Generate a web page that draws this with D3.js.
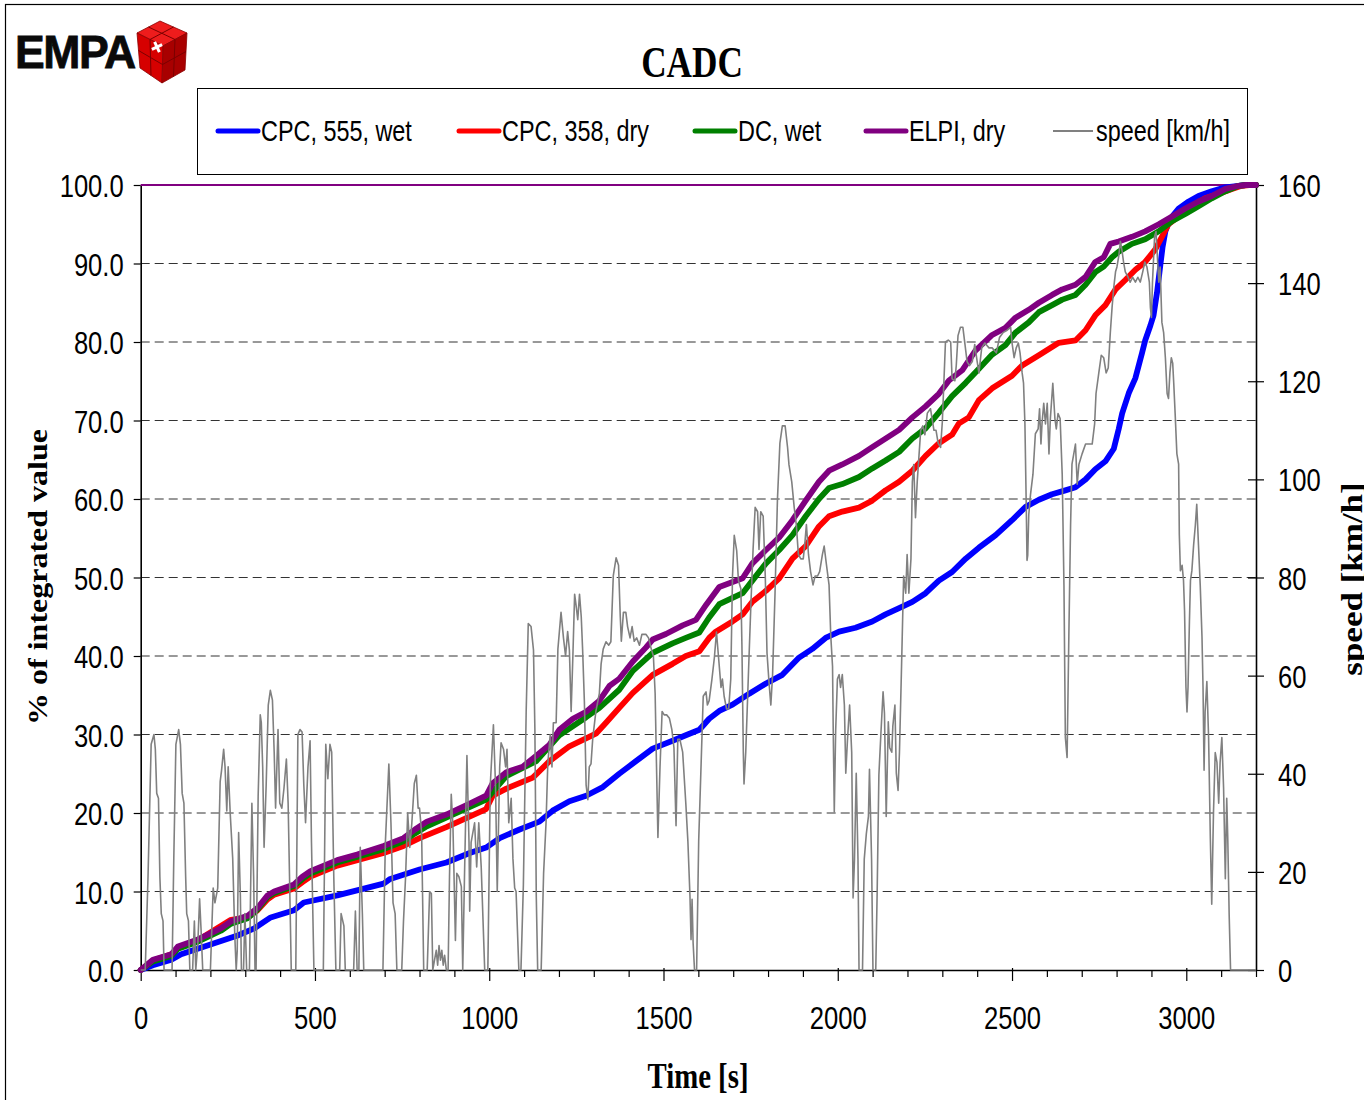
<!DOCTYPE html>
<html>
<head>
<meta charset="utf-8">
<script src="https://cdn.jsdelivr.net/npm/d3@7"></script>
<style>
  body { margin: 0; background: #fff; }
  svg { display: block; }
  .sans { font-family: "Liberation Sans", Arial, sans-serif; }
  .serif { font-family: "Liberation Serif", "Times New Roman", serif; font-weight: bold; }
</style>
</head>
<body>
<svg id="chart" width="1364" height="1100"></svg>
<script>
// ---- axis ticks ----
const timeTicks = [0, 500, 1000, 1500, 2000, 2500, 3000];
const minorTimeTicks = d3.range(0, 3201, 100);
const percentTicks = [0, 10, 20, 30, 40, 50, 60, 70, 80, 90, 100];
const speedTicks = [0, 20, 40, 60, 80, 100, 120, 140, 160];

// ---- series: [time s, % of integrated value] ----
const cpc555Wet = [[0,0],[35,0.6],[88,1.3],[116,2],[183,3],[278,4.4],[326,5.3],[373,6.7],[440,7.6],[468,8.6],[564,9.5],[697,11],[716,11.6],[800,12.8],[877,13.7],[944,14.9],[991,15.6],[1030,16.8],[1087,17.9],[1144,18.9],[1182,20.3],[1230,21.5],[1278,22.2],[1326,23.3],[1373,25],[1421,26.6],[1469,28.2],[1526,29.2],[1564,29.9],[1603,30.6],[1631,32],[1660,33],[1698,33.8],[1746,35.2],[1794,36.5],[1841,37.6],[1889,39.8],[1927,40.9],[1965,42.3],[2004,43.1],[2051,43.6],[2099,44.4],[2137,45.3],[2176,46.1],[2214,46.9],[2252,48],[2290,49.6],[2328,50.7],[2367,52.4],[2405,53.8],[2453,55.4],[2500,57.3],[2539,59],[2577,59.9],[2615,60.6],[2653,61.1],[2682,61.5],[2711,62.5],[2739,63.8],[2768,64.8],[2792,66.4],[2806,68.9],[2816,70.9],[2835,73.5],[2854,75.4],[2873,78.6],[2882,80.2],[2897,82.1],[2906,83.4],[2916,86.3],[2925,89.6],[2932,92.1],[2940,94.1],[2954,95.7],[2978,97],[3007,97.9],[3035,98.6],[3073,99.2],[3112,99.7],[3150,99.9],[3169,100],[3200,100]];

const cpc358Dry = [[0,0],[35,1.2],[88,2.0],[107,2.8],[164,3.8],[230,5.6],[259,6.4],[307,6.7],[335,7.6],[364,9.0],[383,9.6],[440,10.4],[464,11.2],[487,11.9],[564,13.3],[697,14.9],[754,15.8],[800,16.8],[877,18.2],[991,20.5],[1010,22.2],[1049,23.1],[1125,24.5],[1173,26.6],[1230,28.5],[1306,30.1],[1335,31.5],[1373,33.4],[1412,35.3],[1469,37.6],[1526,39],[1564,40],[1603,40.6],[1631,42.3],[1650,43.1],[1698,44.4],[1727,45.3],[1755,46.9],[1794,48.3],[1832,49.9],[1870,52.4],[1908,54],[1946,56.5],[1975,57.8],[2013,58.4],[2061,58.9],[2099,59.8],[2137,61.1],[2176,62.2],[2214,63.6],[2252,65.5],[2290,67.1],[2328,68.2],[2347,69.6],[2376,70.4],[2405,72.6],[2443,74.1],[2500,75.7],[2529,77],[2577,78.3],[2634,79.9],[2682,80.2],[2711,81.5],[2739,83.4],[2768,84.7],[2797,86.7],[2825,87.9],[2854,89.2],[2882,90.2],[2911,91.8],[2930,93.4],[2949,95],[2978,96],[3016,97.3],[3054,98.3],[3093,98.9],[3131,99.5],[3159,99.9],[3180,100],[3200,100]];

const dcWet = [[0,0],[35,1.1],[88,1.8],[107,2.7],[164,3.6],[230,5.0],[259,5.9],[307,6.6],[335,7.7],[364,9.3],[383,9.8],[440,10.7],[464,11.6],[487,12.3],[564,13.7],[621,14.4],[697,15.4],[754,16.4],[787,17.4],[821,18.3],[991,21.7],[1049,24.7],[1135,26.6],[1201,29.9],[1278,32.2],[1316,33.4],[1373,35.7],[1412,38.1],[1469,40.4],[1526,41.6],[1564,42.3],[1603,43],[1631,44.9],[1660,46.6],[1727,48],[1755,49.6],[1794,51.8],[1832,53.5],[1870,55.4],[1908,57.8],[1946,60],[1975,61.4],[2013,61.9],[2061,62.8],[2099,63.9],[2137,64.9],[2176,66],[2214,67.7],[2252,69],[2290,71],[2328,73.1],[2367,74.8],[2405,76.6],[2443,78.4],[2481,79.6],[2510,81.2],[2548,82.5],[2577,83.8],[2615,84.7],[2644,85.4],[2682,86],[2711,87.3],[2739,88.9],[2763,89.6],[2787,90.8],[2806,91.5],[2844,92.5],[2882,93.1],[2921,94.1],[2959,95.4],[2997,96.3],[3035,97.3],[3073,98.3],[3112,99.2],[3150,99.9],[3170,100],[3200,100]];

const elpiDry = [[0,0],[35,1.3],[88,2.0],[107,3.0],[164,3.9],[230,5.3],[259,6.2],[307,6.9],[335,7.9],[364,9.5],[383,10],[440,10.9],[464,11.9],[487,12.6],[564,14],[621,14.7],[697,15.8],[754,16.8],[787,17.9],[821,18.9],[877,19.8],[944,21.2],[991,22.2],[1010,23.8],[1049,25.2],[1096,25.9],[1135,27.3],[1173,28.7],[1201,30.6],[1240,32],[1278,32.9],[1316,34.3],[1345,36.2],[1373,37.1],[1412,39.3],[1450,41.1],[1469,42.1],[1507,42.8],[1555,43.9],[1593,44.6],[1622,46.5],[1660,48.8],[1727,49.9],[1755,51.8],[1794,53.5],[1832,55.1],[1870,57.3],[1908,59.8],[1946,62.2],[1975,63.6],[2013,64.4],[2061,65.5],[2099,66.6],[2137,67.7],[2176,68.8],[2214,70.4],[2252,71.8],[2290,73.4],[2319,75.1],[2357,76.4],[2395,78.9],[2443,80.9],[2481,81.8],[2510,83.1],[2548,84.1],[2577,85],[2615,86],[2644,86.7],[2682,87.3],[2711,88.3],[2739,90.2],[2763,90.8],[2782,92.5],[2806,92.8],[2844,93.4],[2882,94.1],[2921,95],[2959,96],[2997,97],[3035,97.9],[3073,98.6],[3112,99.5],[3150,99.9],[3170,100],[3200,100]];

// ---- vehicle speed: [time s, km/h] ----
const speedTrace = [[0,0],[13,0],[21,19],[30,46],[38,48],[42,45],[46,36],[51,35],[55,19],[59,11.5],[64,10],[67,0],[90,0],[95,23],[101,46],[109,49],[114,46],[119,36],[124,34],[129,19],[132,11.5],[137,10],[141,0],[149,0],[154,10],[158,0],[164,5.5],[169,14.5],[173,8.5],[178,0],[200,0],[208,16.7],[213,13.7],[221,16.7],[228,38.4],[232,40.7],[238,45],[242,41.4],[247,32.4],[251,41.4],[257,31.7],[264,22.7],[270,7],[274,0],[277,4],[281,28],[286,15],[289,0],[295,0],[299,11.5],[304,0],[312,0],[319,34],[324,19],[328,0],[331,0],[337,35.4],[343,52],[346,50.4],[350,41.4],[354,25],[360,37.7],[366,54],[372,57],[378,55],[383,44.4],[387,33],[394,49],[399,34],[405,33],[411,37],[418,43],[423,34],[427,19],[432,0],[445,0],[451,48],[457,49],[463,48.5],[468,37.7],[473,30],[480,41.4],[486,46.7],[490,26],[497,0],[524,0],[531,46],[537,39],[543,46],[548,44.4],[554,19],[560,0],[571,0],[575,11.5],[583,9],[587,0],[611,0],[616,12],[621,0],[626,0],[630,25],[636,11.5],[640,0],[695,0],[702,26],[712,42],[718,30],[724,13.7],[730,11.5],[735,0],[749,0],[754,10],[760,19],[766,32],[772,25],[778,30],[785,38],[791,39.7],[796,33],[800,33],[806,28],[812,0],[822,0],[829,16],[834,15.6],[838,0],[843,2],[848,4],[852,1],[856,5],[860,2],[864,4],[868,1],[872,3],[877,0],[882,0],[886,19],[891,35.8],[896,29],[903,6],[907,19.7],[913,19],[920,17],[924,0],[929,19],[936,43.7],[942,26],[944,12],[948,26],[958,30],[964,21],[970,30],[977,21],[987,0],[996,0],[1003,37.7],[1012,50],[1018,37.7],[1023,16],[1030,41.4],[1034,46.3],[1041,45],[1047,41.4],[1051,45],[1056,30],[1063,35],[1068,22.7],[1073,16.7],[1077,16],[1085,0],[1091,0],[1098,17.4],[1106,52.7],[1112,70.6],[1120,70],[1127,65.2],[1131,49],[1135,15],[1139,0],[1149,0],[1156,19.7],[1163,30],[1168,42],[1175,48],[1180,41.4],[1184,50.4],[1192,50.4],[1197,65.4],[1206,72.9],[1213,67.7],[1219,64],[1225,69],[1230,65.2],[1235,52.7],[1240,64],[1245,76.6],[1249,74.4],[1254,71.4],[1259,76.6],[1264,72],[1268,65.2],[1273,54.7],[1278,37.7],[1283,34.7],[1287,41.4],[1292,42],[1297,47.2],[1306,52.7],[1316,56.4],[1321,62.4],[1327,65.4],[1335,66.9],[1343,66.2],[1349,66.9],[1356,80.4],[1364,84],[1371,82.5],[1376,72],[1379,67],[1385,72.9],[1392,72.9],[1397,70],[1404,67.7],[1410,70],[1416,67],[1423,67.7],[1431,66.2],[1438,68.4],[1450,68.4],[1457,67.7],[1465,65.4],[1471,64],[1476,56.4],[1480,41.4],[1484,27],[1490,41.4],[1496,52.7],[1502,52],[1509,52],[1517,51.3],[1524,49],[1530,45.3],[1536,29.4],[1541,47],[1547,47],[1555,44.4],[1564,34],[1570,26.2],[1576,15],[1579,6.2],[1582,14.4],[1585,5.5],[1589,0],[1595,0],[1601,26.4],[1607,39.9],[1614,55.8],[1622,56.7],[1626,54],[1631,54.9],[1639,59.3],[1646,63.7],[1652,68.9],[1658,63.7],[1665,57.6],[1669,59.3],[1674,55.8],[1681,53.2],[1687,53.2],[1693,59.3],[1698,80.3],[1703,88.6],[1710,85.5],[1715,79.4],[1722,77.7],[1725,66.3],[1729,44.4],[1731,37.9],[1736,44.4],[1744,61],[1751,75],[1757,85.7],[1763,94.3],[1770,93.4],[1774,85.7],[1779,93.4],[1786,92.5],[1792,80.3],[1797,64.6],[1803,58.4],[1808,54],[1813,60.2],[1820,76.8],[1827,96],[1834,107.4],[1841,110.9],[1849,110.9],[1856,106.5],[1860,103],[1868,99.5],[1875,94.3],[1881,90.8],[1887,84.7],[1894,83.8],[1901,83.8],[1906,87.3],[1910,90.8],[1916,84.7],[1922,81.2],[1929,78.5],[1935,80.3],[1942,80.3],[1948,81.2],[1956,84.7],[1961,86.4],[1967,82.9],[1975,78.5],[1980,68],[1985,61.9],[1987,48.8],[1990,32.2],[1994,48.8],[1999,59.3],[2004,60.2],[2008,57.6],[2013,60.2],[2019,54],[2023,40.1],[2028,47.1],[2034,54],[2040,44.4],[2044,14.7],[2048,22.6],[2053,40.1],[2058,22.6],[2061,0],[2071,0],[2076,22.6],[2082,27.8],[2088,31.3],[2091,40.9],[2097,22.6],[2101,0],[2109,0],[2113,15.6],[2118,39.8],[2124,48.5],[2130,56.7],[2134,52.3],[2139,31.3],[2145,50.6],[2149,45.3],[2155,44.4],[2158,49.7],[2164,54],[2168,40.1],[2173,36.6],[2177,44.4],[2183,61.9],[2189,80.3],[2195,76.8],[2199,84.7],[2204,76.8],[2210,83.8],[2214,99.5],[2218,103],[2223,92.2],[2228,99.5],[2233,104.8],[2238,110],[2244,110.9],[2250,109.1],[2257,113.5],[2266,114.4],[2276,110],[2282,110],[2288,107.4],[2295,106.5],[2300,111.7],[2309,128],[2317,128.4],[2324,128],[2328,120.5],[2336,120.1],[2340,123.2],[2345,129.3],[2352,131],[2359,131],[2365,127.5],[2371,124],[2378,123.2],[2386,124],[2393,127.5],[2400,124],[2405,121.7],[2413,126.8],[2422,127.8],[2434,126.8],[2443,126.8],[2455,125.8],[2464,128.9],[2474,129.9],[2486,130.4],[2496,131],[2500,127.8],[2506,124.8],[2512,126.8],[2518,127.8],[2523,125.8],[2529,121.7],[2533,119.6],[2537,111.3],[2541,93.8],[2543,83.5],[2545,84.5],[2548,92.8],[2553,96.9],[2560,101],[2567,109.3],[2575,110.3],[2579,114.4],[2583,107.2],[2586,111.3],[2591,115.5],[2596,111.3],[2601,115.5],[2606,105.2],[2610,112.4],[2617,119.6],[2623,112.4],[2627,110.3],[2632,113.4],[2638,112.4],[2644,101],[2649,78.4],[2653,47.4],[2658,43.3],[2663,68],[2668,90.7],[2672,103.1],[2682,107.2],[2687,99],[2692,103.1],[2701,105.2],[2711,107.2],[2722,107.2],[2730,107.2],[2737,111.3],[2741,117.5],[2749,121.7],[2756,125.3],[2763,124.8],[2770,121.7],[2776,122.7],[2782,129.9],[2787,135],[2792,139.2],[2797,142.3],[2801,143.3],[2806,145.4],[2811,148.5],[2816,146.4],[2820,144.3],[2825,142.3],[2833,141.2],[2839,140.2],[2846,141.2],[2854,140.2],[2861,141.2],[2868,140.2],[2875,142.3],[2881,144.3],[2887,143.3],[2894,140.2],[2897,135],[2900,133],[2903,140.2],[2909,149.5],[2913,150.5],[2917,145.4],[2921,140.2],[2925,143.3],[2930,132],[2935,129.9],[2940,124.8],[2945,117.5],[2949,116.5],[2953,121.7],[2957,124.8],[2961,123.7],[2964,119.6],[2968,113.4],[2973,105.2],[2978,103.1],[2980,88.7],[2983,81.4],[2988,82.5],[2992,79.4],[2995,73.2],[2999,57.7],[3002,52.6],[3005,57.7],[3009,71.1],[3012,79.4],[3016,81.4],[3021,86.6],[3026,90.7],[3030,94.9],[3035,86.6],[3040,78.4],[3045,68],[3048,57.7],[3051,40.7],[3054,52.6],[3059,58.8],[3064,47.4],[3069,26.8],[3073,13.4],[3078,32],[3083,44.3],[3088,42.3],[3093,34],[3097,42.3],[3102,47.4],[3107,37.1],[3112,18.6],[3116,35],[3119,26.8],[3123,11.3],[3127,0],[3200,0]];

// ---- series labels ----
const seriesLabels = ["CPC, 555, wet", "CPC, 358, dry", "DC, wet", "ELPI, dry", "speed [km/h]"];

// ---- styling ----
const seriesColors = ["#0000ff", "#ff0000", "#008000", "#800080", "#808080"];
const seriesWidths = [5.8, 5.8, 5.8, 5.8, 1.6];

const svg = d3.select("#chart");
const plot = { left: 140.7, right: 1256, top: 185, bottom: 970 };

const x = d3.scaleLinear().domain([0, 3200]).range([plot.left, plot.right]);
const yPct = d3.scaleLinear().domain([0, 100]).range([plot.bottom, plot.top]);
const ySpeed = d3.scaleLinear().domain([0, 160]).range([plot.bottom, plot.top]);

// Text in this chart is horizontally condensed; glyphs are squeezed by this factor.
const SQ = 0.8;

// outer frame
svg.append("rect").attr("x", 5.5).attr("y", 4.5).attr("width", 1400).attr("height", 1200)
  .attr("fill", "#fff").attr("stroke", "#000").attr("stroke-width", 1.2);

// ---- EMPA logo ----
const logo = svg.append("g");
logo.append("g").attr("transform", "translate(15,68) scale(0.97,1)")
  .append("text").attr("class", "sans")
  .style("font-size", "46px").style("font-weight", "bold").style("letter-spacing", "-1.5px")
  .attr("fill", "#0a0a0a").attr("stroke", "#0a0a0a").attr("stroke-width", 0.8)
  .text("EMPA");
const cubeFaces = [
  { pts: [[137,33],[160,21],[187,33],[163,46]], fill: "#ee1c1c" },
  { pts: [[137,33],[163,46],[162,83],[140,68]], fill: "#d60000" },
  { pts: [[163,46],[187,33],[185,70],[162,83]], fill: "#a80000" }
];
logo.selectAll("polygon.face").data(cubeFaces).join("polygon")
  .attr("class", "face")
  .attr("points", d => d.pts.map(p => p.join(",")).join(" "))
  .attr("fill", d => d.fill).attr("stroke", "#8a0000").attr("stroke-width", 0.8);
const cubeSeams = [
  [[148.5,27],[175,39.5]], [[173.5,27],[150,39.5]],
  [[150,39.5],[151,75.5]], [[138.5,50.5],[162.5,64.5]],
  [[175,39.5],[173.5,76.5]], [[162.5,64.5],[186,51.5]]
];
logo.selectAll("line.seam").data(cubeSeams).join("line")
  .attr("class", "seam")
  .attr("x1", d => d[0][0]).attr("y1", d => d[0][1])
  .attr("x2", d => d[1][0]).attr("y2", d => d[1][1])
  .attr("stroke", "#7a0000").attr("stroke-width", 1);
const cross = logo.append("g").attr("transform", "translate(157,47) rotate(20)");
cross.append("line").attr("x1", -4).attr("y1", -4).attr("x2", 4).attr("y2", 4)
  .attr("stroke", "#fff").attr("stroke-width", 3);
cross.append("line").attr("x1", -4).attr("y1", 4).attr("x2", 4).attr("y2", -4)
  .attr("stroke", "#fff").attr("stroke-width", 3);

// ---- title ----
svg.append("g").attr("transform", `translate(692,77) scale(0.8,1)`)
  .append("text").attr("class", "serif").attr("text-anchor", "middle")
  .style("font-size", "44px").text("CADC");

// ---- legend ----
const legendBox = { x: 197.5, y: 88.5, w: 1050, h: 86 };
svg.append("rect").attr("x", legendBox.x).attr("y", legendBox.y)
  .attr("width", legendBox.w).attr("height", legendBox.h)
  .attr("fill", "#fff").attr("stroke", "#000").attr("stroke-width", 1);
const legendX = [218, 459, 695, 866, 1053];
const legendY = 131;
const legendItems = svg.append("g").selectAll("g").data(seriesLabels).join("g")
  .attr("transform", (d, i) => `translate(${legendX[i]},${legendY})`);
legendItems.append("line").attr("x1", 0).attr("x2", 40).attr("y1", 0).attr("y2", 0)
  .attr("stroke", (d, i) => seriesColors[i])
  .attr("stroke-width", (d, i) => i < 4 ? 5 : 2)
  .attr("stroke-linecap", (d, i) => i < 4 ? "round" : "butt");
legendItems.append("g").attr("transform", `translate(43,10) scale(0.78,1)`)
  .append("text").attr("class", "sans").style("font-size", "30px")
  .attr("fill", "#000").text(d => d);

// ---- gridlines ----
svg.append("g").selectAll("line").data(percentTicks.filter(v => v > 0 && v < 100)).join("line")
  .attr("x1", plot.left).attr("x2", plot.right)
  .attr("y1", d => yPct(d)).attr("y2", d => yPct(d))
  .attr("stroke", "#333").attr("stroke-width", 1).attr("stroke-dasharray", "9,5");

// ---- axes ----
function squeezeLabels(g, anchorX) {
  g.selectAll("text")
    .attr("class", "sans").style("font-size", "32px").attr("fill", "#000")
    .attr("transform", `scale(${SQ},1)`);
  if (anchorX !== undefined) g.selectAll("text").attr("x", anchorX / SQ);
}

const leftAxis = svg.append("g").attr("transform", `translate(${plot.left},0)`)
  .call(d3.axisLeft(yPct).tickValues(percentTicks).tickFormat(d3.format(".1f"))
    .tickSize(7).tickSizeOuter(0));
leftAxis.select(".domain").attr("stroke", "#000").attr("stroke-width", 1.6);
leftAxis.selectAll(".tick line").attr("stroke", "#000").attr("stroke-width", 1.2);
leftAxis.selectAll("text").attr("dy", "0.36em");
squeezeLabels(leftAxis, -17);

const rightAxis = svg.append("g").attr("transform", `translate(${plot.right},0)`)
  .call(d3.axisRight(ySpeed).tickValues(speedTicks).tickSize(8).tickSizeOuter(0));
rightAxis.select(".domain").attr("stroke", "#000").attr("stroke-width", 1.6);
rightAxis.selectAll(".tick line").attr("x1", -8).attr("x2", 8)
  .attr("stroke", "#000").attr("stroke-width", 1.2);
rightAxis.selectAll("text").attr("dy", "0.36em");
squeezeLabels(rightAxis, 22);

const bottomAxis = svg.append("g").attr("transform", `translate(0,${plot.bottom})`)
  .call(d3.axisBottom(x).tickValues(minorTimeTicks)
    .tickFormat(d => timeTicks.includes(d) ? d : "").tickSizeOuter(0));
bottomAxis.select(".domain").attr("stroke", "#000").attr("stroke-width", 1.6);
bottomAxis.selectAll(".tick line")
  .attr("y1", d => timeTicks.includes(d) ? -2 : 0)
  .attr("y2", d => timeTicks.includes(d) ? 11 : 7)
  .attr("stroke", "#000").attr("stroke-width", 1.2);
bottomAxis.selectAll("text").attr("y", 59).attr("dy", 0);
squeezeLabels(bottomAxis);

// ---- axis titles ----
svg.append("g").attr("transform", "translate(698,1088) scale(0.8,1)")
  .append("text").attr("class", "serif").attr("text-anchor", "middle")
  .style("font-size", "36px").text("Time [s]");
svg.append("g").attr("transform", "translate(47,577) rotate(-90) scale(1,0.85)")
  .append("text").attr("class", "serif").attr("text-anchor", "middle")
  .style("font-size", "32px").text("% of integrated value");
svg.append("g").attr("transform", "translate(1362,579) rotate(-90) scale(1,0.85)")
  .append("text").attr("class", "serif").attr("text-anchor", "middle")
  .style("font-size", "35px").text("speed [km/h]");

// ---- top edge of the plot area ----
svg.append("line").attr("x1", plot.left).attr("x2", plot.right)
  .attr("y1", yPct(100)).attr("y2", yPct(100))
  .attr("stroke", "#800080").attr("stroke-width", 2);

// ---- cumulative curves ----
const pctLine = d3.line().x(d => x(d[0])).y(d => yPct(d[1]));
const cumulative = [cpc555Wet, cpc358Dry, dcWet, elpiDry];
svg.append("g").selectAll("path").data(cumulative).join("path")
  .attr("d", pctLine).attr("fill", "none")
  .attr("stroke", (d, i) => seriesColors[i])
  .attr("stroke-width", (d, i) => seriesWidths[i])
  .attr("stroke-linejoin", "round").attr("stroke-linecap", "round");

// ---- speed trace on secondary axis ----
const speedLine = d3.line().x(d => x(d[0])).y(d => ySpeed(d[1]));
svg.append("path").datum(speedTrace).attr("d", speedLine)
  .attr("fill", "none").attr("stroke", seriesColors[4])
  .attr("stroke-width", seriesWidths[4]).attr("stroke-linejoin", "round");
</script>
</body>
</html>
